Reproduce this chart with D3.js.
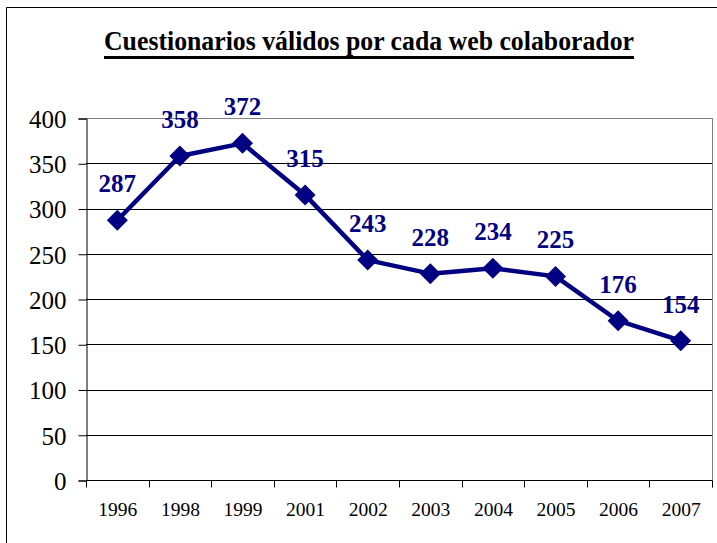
<!DOCTYPE html>
<html><head><meta charset="utf-8">
<script src="https://cdn.jsdelivr.net/npm/d3@7"></script>
<style>body{margin:0;background:#fff}svg{display:block}</style>
</head><body>
<svg id="c" width="717" height="543"></svg>
<script>
const categories = ["1996","1998","1999","2001","2002","2003","2004","2005","2006","2007"];
const values = [287,358,372,315,243,228,234,225,176,154];
const yTicks = [0,50,100,150,200,250,300,350,400];
const title = "Cuestionarios válidos por cada web colaborador";

const svg = d3.select("#c");
const serif = "Liberation Serif, Times New Roman, serif";
const navy = "#000080";
const L = 86, R = 712, T = 118, B = 480;

// outer frame (only top and left edges visible)
svg.append("path").attr("d","M6.5,543V7.5H717").attr("fill","none").attr("stroke","#000").attr("stroke-width",1);

const x = d3.scaleBand().domain(categories).range([L,R]).padding(0);
const y = d3.scaleLinear().domain([0,400]).range([B,T]);

// gridlines
svg.append("g").selectAll("line").data(yTicks.filter(d=>d>0)).join("line")
  .attr("x1",L).attr("x2",R).attr("y1",d=>Math.round(y(d))+0.5).attr("y2",d=>Math.round(y(d))+0.5)
  .attr("stroke",d=>d===400?"#808080":"#000").attr("stroke-width",1);
// right border
svg.append("line").attr("x1",R+0.5).attr("x2",R+0.5).attr("y1",T).attr("y2",B).attr("stroke","#808080");

// y axis
const ya = svg.append("g").attr("transform",`translate(${L+0.5},0.5)`)
  .call(d3.axisLeft(y).tickValues(yTicks).tickSize(8).tickPadding(12));
ya.select(".domain").attr("stroke","#000");
ya.selectAll("text").attr("font-family",serif).attr("font-size",25).attr("fill","#000").attr("dy","0.35em");

// x axis
const xa = svg.append("g").attr("transform",`translate(0.5,${B+0.5})`)
  .call(d3.axisBottom(x).tickSize(0).tickPadding(22));
xa.select(".domain").attr("stroke","#000").attr("d",`M${L},0H${R}`);
xa.selectAll("text").attr("font-family",serif).attr("font-size",19.5).attr("fill","#000");
// boundary ticks
xa.append("g").selectAll("line").data(d3.range(categories.length+1)).join("line")
  .attr("x1",i=>Math.round(L + i*x.step())).attr("x2",i=>Math.round(L + i*x.step()))
  .attr("y1",0).attr("y2",7).attr("stroke","#000");

// line
const cx = d => x(d) + x.bandwidth()/2;
svg.append("path").datum(values)
  .attr("d", d3.line().x((d,i)=>cx(categories[i])).y(d=>y(d)))
  .attr("fill","none").attr("stroke",navy).attr("stroke-width",4.5).attr("stroke-linejoin","round");

// markers
svg.append("g").selectAll("path").data(values).join("path")
  .attr("transform",(d,i)=>`translate(${cx(categories[i])},${y(d)})`)
  .attr("d","M0,-10.5L10.5,0L0,10.5L-10.5,0Z").attr("fill",navy);

// labels
svg.append("g").selectAll("text").data(values).join("text")
  .attr("x",(d,i)=>cx(categories[i])).attr("y",d=>y(d)-28)
  .attr("text-anchor","middle").attr("font-family",serif).attr("font-weight","bold")
  .attr("font-size",25).attr("fill",navy).text(d=>d);

// title
svg.append("text").attr("x",104).attr("y",50)
  .attr("font-family",serif).attr("font-weight","bold").attr("font-size",27).attr("fill","#000")
  .attr("textLength",530).attr("lengthAdjust","spacingAndGlyphs")
  .text(title);
svg.append("rect").attr("x",104).attr("y",56).attr("width",530).attr("height",3).attr("fill","#000");
</script>
</body></html>
